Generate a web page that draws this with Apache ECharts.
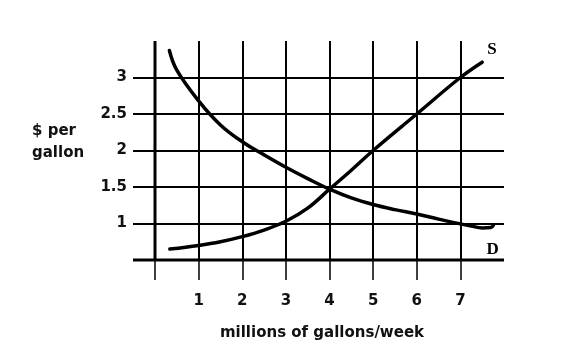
<!DOCTYPE html>
<html>
<head>
<meta charset="utf-8">
<script src="https://cdn.jsdelivr.net/npm/echarts@6/dist/echarts.min.js"></script>
<style>html,body{margin:0;padding:0;background:#fff;}#c{width:585px;height:355px;}</style>
</head>
<body>
<div id="c"></div>
<script>
const xTicks = [0, 1, 2, 3, 4, 5, 6, 7];
const xLabels = [1, 2, 3, 4, 5, 6, 7];
const yTicks = [0.5, 1, 1.5, 2, 2.5, 3];
const yLabels = [1, 1.5, 2, 2.5, 3];
const supplyName = 'S';
const supplyX = [0.34, 1, 1.5, 2, 2.5, 3, 3.5, 4, 4.5, 5, 6, 7, 7.5];
const supplyY = [0.65, 0.70, 0.75, 0.82, 0.91, 1.03, 1.21, 1.47, 1.73, 2.0, 2.5, 3.0, 3.21];
const demandName = 'D';
const demandX = [0.33, 0.5, 1, 1.5, 2, 2.5, 3, 3.5, 4, 4.5, 5, 5.5, 6, 6.5, 7, 7.25, 7.5, 7.7, 7.76];
const demandY = [3.37, 3.10, 2.68, 2.35, 2.12, 1.94, 1.77, 1.615, 1.47, 1.35, 1.26, 1.19, 1.13, 1.06, 0.995, 0.965, 0.94, 0.945, 0.98];
const xTitle = 'millions of gallons/week';
const yTitle = '$ per\ngallon';

const pair = (xs, ys) => xs.map((x, i) => [x, ys[i]]);
const chart = echarts.init(document.getElementById('c'), null, {renderer: 'canvas'});
const font = '"DejaVu Sans", sans-serif';
chart.setOption({
  animation: false,
  backgroundColor: '#fff',
  grid: {left: 155, top: 41, width: 349, height: 219, containLabel: false, outerBoundsMode: 'none'},
  xAxis: {
    type: 'value', min: 0, max: 8, interval: 1,
    axisLine: {show: false},
    axisTick: {show: true, inside: false, length: 20, customValues: xTicks, lineStyle: {color: '#000', width: 1.5}},
    axisLabel: {customValues: xLabels, margin: 34, color: '#111', fontFamily: font, fontWeight: 'bold', fontSize: 15},
    splitLine: {show: true, showMinLine: false, showMaxLine: true, lineStyle: {color: '#000', width: 2}}
  },
  yAxis: {
    type: 'value', min: 0.5, max: 3.5, interval: 0.5,
    axisLine: {show: false},
    axisTick: {show: true, inside: false, length: 22, customValues: yTicks, lineStyle: {color: '#000', width: 2}},
    axisLabel: {customValues: yLabels, margin: 28, color: '#111', fontFamily: font, fontWeight: 'bold', fontSize: 15},
    splitLine: {show: true, showMinLine: false, showMaxLine: true, lineStyle: {color: '#000', width: 2}}
  },
  graphic: [
    {type: 'line', shape: {x1: 155, y1: 41, x2: 155, y2: 261}, style: {stroke: '#000', lineWidth: 3}, z: 10},
    {type: 'line', shape: {x1: 133, y1: 260, x2: 504, y2: 260}, style: {stroke: '#000', lineWidth: 3}, z: 10},
    {type: 'text', x: 322, y: 333, style: {text: xTitle, fill: '#111', font: 'bold 15px "DejaVu Sans", sans-serif', align: 'center', verticalAlign: 'middle'}},
    {type: 'text', x: 32, y: 142.5, style: {text: yTitle, fill: '#111', font: 'bold 15px "DejaVu Sans", sans-serif', align: 'left', verticalAlign: 'middle', lineHeight: 22}}
  ],
  series: [
    {
      name: supplyName, type: 'line', data: pair(supplyX, supplyY), symbol: 'none', smooth: 0.4,
      lineStyle: {color: '#000', width: 3.5, cap: 'round'}, z: 5,
      endLabel: {show: true, formatter: '{a}', offset: [-3, -13], color: '#000', fontFamily: '"Liberation Serif", serif', fontWeight: 'bold', fontSize: 17}
    },
    {
      name: demandName, type: 'line', data: pair(demandX, demandY), symbol: 'none', smooth: 0.4,
      lineStyle: {color: '#000', width: 3.5, cap: 'round'}, z: 5,
      endLabel: {show: true, formatter: '{a}', offset: [-15, 25], color: '#000', fontFamily: '"Liberation Serif", serif', fontWeight: 'bold', fontSize: 17}
    }
  ]
});
</script>
</body>
</html>
